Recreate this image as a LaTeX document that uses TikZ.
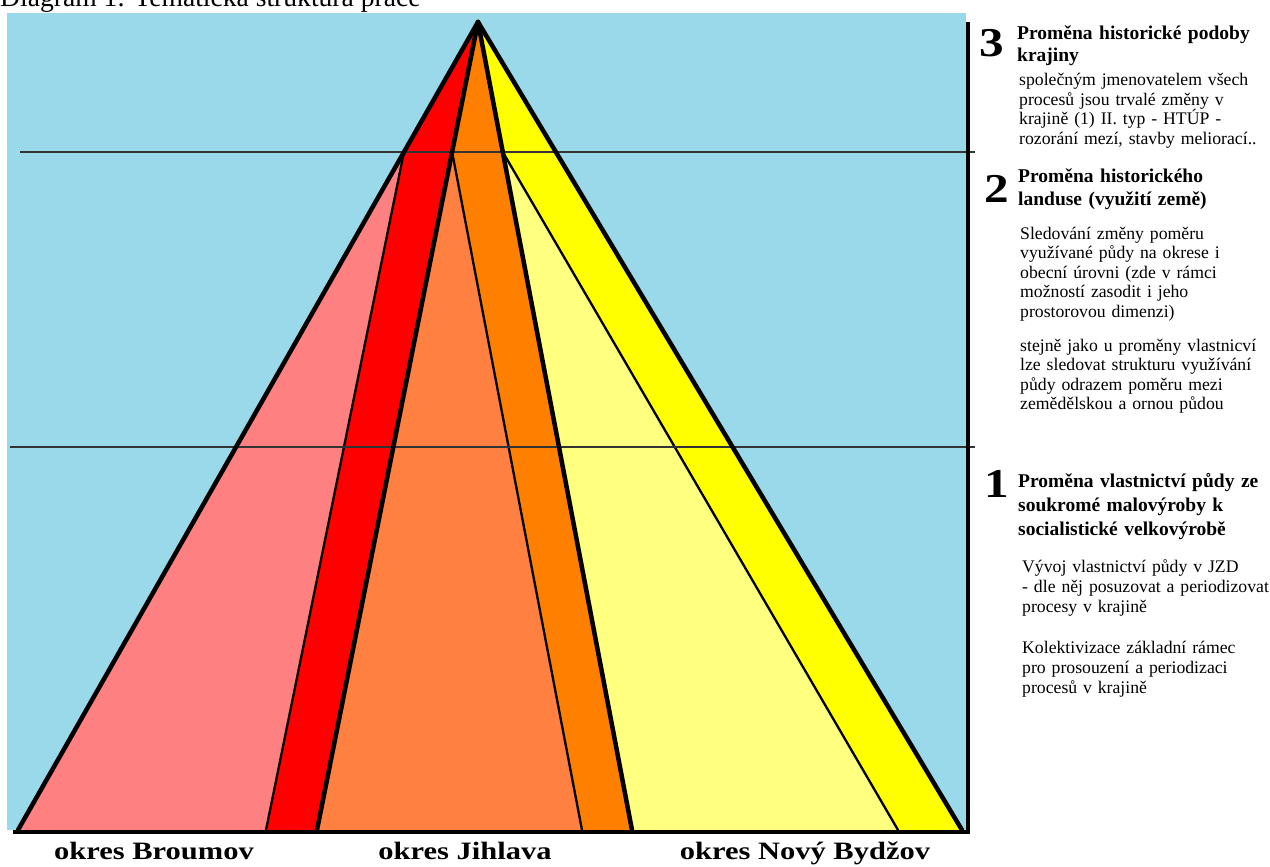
\documentclass[tikz,border=0pt]{standalone}
\usepackage{fontspec}
\setmainfont{Liberation Serif}
\usepackage{graphicx}
\usetikzlibrary{calc}
\definecolor{sky}{RGB}{153,217,234}
\definecolor{pinkc}{RGB}{255,128,128}
\definecolor{redc}{RGB}{255,0,0}
\definecolor{lorange}{RGB}{255,128,64}
\definecolor{dorange}{RGB}{255,128,0}
\definecolor{lyellow}{RGB}{255,255,128}
\definecolor{yellowc}{RGB}{255,255,0}
\tikzset{
  thickl/.style={line width=4.5pt, line cap=round, line join=round},
  thinl/.style={line width=2.3pt, line cap=round},
  hline/.style={line width=1.2pt, black!80},
  hd/.style={anchor=base west, inner sep=0pt, text width=265pt, align=left},
  bd/.style={anchor=base west, inner sep=0pt, text width=265pt, align=left, font=\fontsize{17.7}{19.5}\selectfont},
  num/.style={anchor=base west, inner sep=0pt, font=\fontsize{41}{41}\selectfont\bfseries},
  lab/.style={anchor=base, inner sep=0pt, font=\fontsize{25}{27}\selectfont\bfseries},
}
\begin{document}
\begin{tikzpicture}[x=1pt,y=-1pt]
\useasboundingbox (0,0) rectangle (1270,867);
\clip (0,0) rectangle (1270,867);
\fill[white] (0,0) rectangle (1270,867);
\node[anchor=base west, inner sep=0pt, font=\fontsize{27.6}{30}\selectfont] (title) at (0,7) {Diagram 1: Tematická struktura práce};
\fill[sky] (7,13) rectangle (966,830);
% key points
\coordinate (A) at (478,22);
\coordinate (L) at (18,830);
\coordinate (R) at (962,830);
\coordinate (B1) at (266,830);
\coordinate (C1) at (317,830);
\coordinate (C2) at (582,830);
\coordinate (D1) at (632,830);
\coordinate (D2) at (898,830);
\coordinate (P1) at ($(A)!0.1609!(L)$);
\coordinate (P2) at ($(A)!0.1609!(C1)$);
\coordinate (P3) at ($(A)!0.1609!(D1)$);
% fills
\fill[pinkc] (P1) -- (L) -- (B1) -- cycle;
\fill[redc] (A) -- (P1) -- (B1) -- (C1) -- cycle;
\fill[lorange] (P2) -- (C1) -- (C2) -- cycle;
\fill[dorange] (A) -- (P2) -- (C2) -- (D1) -- cycle;
\fill[lyellow] (P3) -- (D1) -- (D2) -- cycle;
\fill[yellowc] (A) -- (P3) -- (D2) -- (R) -- cycle;
% thin boundaries
\draw[thinl] (P1) -- (B1);
\draw[thinl] (P2) -- (C2);
\draw[thinl] (P3) -- (D2);
% horizontal level lines
\coordinate (H1a) at (20,152);
\coordinate (H1b) at (975,152);
\coordinate (H2a) at (10,447);
\coordinate (H2b) at (975,447);
\draw[hline] (H1a) -- (H1b);
\draw[hline] (H2a) -- (H2b);
% thick lines
\draw[thickl] (A) -- (L);
\draw[thickl] (A) -- (R);
\draw[thickl] (A) -- (C1);
\draw[thickl] (A) -- (D1);
\coordinate (BLa) at (13,832);
\coordinate (BLb) at (970,832);
\coordinate (VLa) at (968,22);
\coordinate (VLb) at (968,834);
\draw[line width=4.5pt] (BLa) -- (BLb);
\draw[line width=4.5pt] (VLa) -- (VLb);
% bottom labels
\node[lab] (lb1) at (154,859) {\scalebox{1.22}[1]{okres Broumov}};
\node[lab] (lb2) at (465,859) {\scalebox{1.22}[1]{okres Jihlava}};
\node[lab] (lb3) at (805,859) {\scalebox{1.22}[1]{okres Nový Bydžov}};
% section 3
\node[num] (n3) at (979,57) {\scalebox{1.2}[1]{3}};
\node[hd, font=\fontsize{19.5}{22}\selectfont\bfseries] (h3) at (1017,40) {Proměna historické podoby\\krajiny};
\node[bd, font=\fontsize{17.7}{19.4}\selectfont] (b3) at (1019,86) {společným jmenovatelem všech\\procesů jsou trvalé změny v\\krajině (1) II. typ - HTÚP -\\rozorání mezí, stavby meliorací..};
% section 2
\node[num] (n2) at (984,202) {\scalebox{1.2}[1]{2}};
\node[hd, font=\fontsize{19.5}{23}\selectfont\bfseries] (h2) at (1018,182) {Proměna historického\\landuse (využití země)};
\node[bd] (b2a) at (1020,239) {Sledování změny poměru\\využívané půdy na okrese i\\obecní úrovni (zde v rámci\\možností zasodit i jeho\\prostorovou dimenzi)};
\node[bd] (b2b) at (1020,351) {stejně jako u proměny vlastnicví\\lze sledovat strukturu využívání\\půdy odrazem poměru mezi\\zemědělskou a ornou půdou};
% section 1
\node[num] (n1) at (984,497) {\scalebox{1.2}[1]{1}};
\node[hd, font=\fontsize{19.5}{24}\selectfont\bfseries] (h1) at (1018,487) {Proměna vlastnictví půdy ze\\soukromé malovýroby k\\socialistické velkovýrobě};
\node[bd, font=\fontsize{17.7}{20}\selectfont] (b1a) at (1022,572) {Vývoj vlastnictví půdy v JZD\\- dle něj posuzovat a periodizovat\\procesy v krajině};
\node[bd, font=\fontsize{17.7}{20}\selectfont] (b1b) at (1022,653) {Kolektivizace základní rámec\\pro prosouzení a periodizaci\\procesů v krajině};
\end{tikzpicture}
\end{document}
